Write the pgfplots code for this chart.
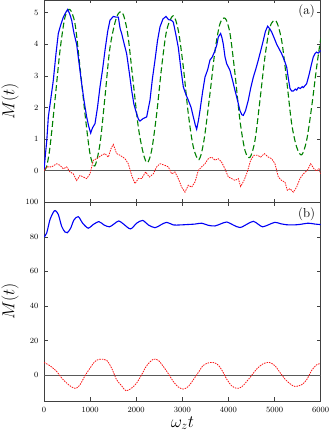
\documentclass[border=0pt]{standalone}
\usepackage{pgfplots}
\pgfplotsset{compat=1.18}
\definecolor{mblue}{RGB}{0,0,245}
\definecolor{mgreen}{RGB}{0,128,0}
\definecolor{mred}{RGB}{250,20,20}
\begin{document}
\begin{tikzpicture}[x=1pt,y=1pt]
\pgfplotsset{
  panel/.style={
    scale only axis, width=276.7pt,
    xmin=0, xmax=6000,
    xtick={0,1000,...,6000},
    tick pos=both, tick align=inside,
    major tick length=3.5pt,
    axis line style={black!75, line width=0.8pt},
    tick style={black!75, line width=0.6pt},
    ticklabel style={font=\fontsize{8.5}{9.5}\selectfont},
    xticklabel style={yshift=-3pt},
    yticklabel style={xshift=-2pt},
    /pgf/number format/1000 sep={},
    ylabel={$M(t)$},
    ylabel style={font=\fontsize{16}{18}\selectfont,
      at={(axis description cs:-0.123,0.5)}, anchor=center},
  },
  zeroline/.style={black!65, line width=0.6pt, forget plot},
}
\path[use as bounding box] (0,0) rectangle (332,435);

% (a) upper panel
\begin{axis}[panel, at={(44pt,232.7pt)}, anchor=south west, height=202.3pt,
  ymin=-1, ymax=5.4, ytick={0,1,...,5}, xticklabels={}]
\addplot[zeroline] coordinates {(0,0) (6000,0)};
% green, dashed
\addplot[mgreen, line width=1.1pt, dash pattern=on 6pt off 3pt, smooth] coordinates {
(0,0) (60,0.15) (130,0.75) (238,2.23) (347,3.8) (455,4.86) (560,5.1) (672,4.65)
(780,3.28) (889,1.8) (997,0.54) (1100,0.15) (1214,0.85) (1322,2.33) (1431,3.9)
(1575,4.86) (1700,5.0) (1814,4.34) (1922,2.96) (2045,1.38) (2154,0.54) (2240,0.25)
(2334,0.64) (2443,1.8) (2551,3.28) (2660,4.44) (2800,4.9) (2912,4.44) (3021,3.28)
(3129,1.8) (3238,0.75) (3360,0.35) (3469,0.96) (3599,2.44) (3708,3.8) (3816,4.65)
(3930,4.82) (4033,4.34) (4141,3.07) (4249,1.59) (4358,0.64) (4466,0.42) (4575,0.96)
(4683,2.23) (4791,3.6) (4900,4.55) (5030,4.74) (5153,4.12) (5262,2.86) (5370,1.49)
(5478,0.75) (5587,0.5) (5695,0.96) (5803,2.01) (5912,3.28) (6000,4.18)
};
% blue, solid
\addplot[mblue, line width=1.1pt] coordinates {
(0,0) (30,0.5) (60,0.95) (94,1.7) (150,2.3) (202,2.86) (260,3.7) (310,4.34)
(360,4.6) (419,4.86) (470,5.0) (513,5.1) (560,4.95) (600,4.76) (650,4.35)
(708,4.0) (760,3.4) (817,2.75) (870,2.2) (925,1.7) (970,1.4) (1012,1.19)
(1050,1.35) (1106,1.49) (1160,2.0) (1214,2.65) (1270,3.2) (1322,3.8) (1380,4.4)
(1431,4.76) (1503,4.88) (1560,4.86) (1612,4.86) (1650,4.5) (1684,4.34) (1740,4.0)
(1792,3.7) (1850,3.1) (1901,2.54) (1950,2.1) (2009,1.8) (2050,1.62) (2081,1.57)
(2150,1.65) (2226,1.7) (2298,2.23) (2350,2.9) (2407,3.5) (2460,4.1) (2515,4.55)
(2580,4.8) (2645,4.88) (2700,4.78) (2760,4.76) (2804,4.7) (2860,4.3) (2912,3.9)
(2970,3.2) (3021,2.65) (3080,2.4) (3129,2.23) (3190,2.0) (3238,1.7) (3280,1.45)
(3310,1.31) (3350,1.6) (3382,1.9) (3440,2.5) (3491,2.96) (3550,3.2) (3599,3.5)
(3650,3.6) (3708,3.8) (3750,4.0) (3780,4.23) (3830,4.34) (3860,4.2) (3888,4.0)
(3925,3.6) (3960,3.39) (4033,3.17) (4090,2.85) (4141,2.54) (4200,2.2) (4249,1.9)
(4290,1.77) (4322,1.75) (4370,1.9) (4430,2.23) (4480,2.6) (4539,2.96) (4590,3.2)
(4647,3.5) (4700,3.8) (4755,4.12) (4800,4.4) (4849,4.57) (4890,4.5) (4936,4.39)
(4990,4.2) (5045,4.0) (5100,3.85) (5153,3.7) (5210,3.5) (5262,3.28) (5300,2.9)
(5334,2.6) (5370,2.52) (5406,2.52) (5450,2.58) (5480,2.55) (5514,2.63) (5560,2.6)
(5600,2.66) (5623,2.63) (5695,2.75) (5750,3.05) (5803,3.39) (5840,3.6) (5876,3.7)
(5910,3.75) (5948,3.72) (5998,3.8)
};
% red, dotted
\addplot[mred, line width=0.8pt, dash pattern=on 1.5pt off 1pt] coordinates {
(0,0) (58,0.12) (166,0.12) (275,0.22) (347,0.17) (419,0.06) (491,0.12) (564,-0.04)
(636,-0.1) (708,-0.31) (780,-0.15) (853,-0.2) (925,-0.25) (997,-0.1) (1070,0.33)
(1142,0.38) (1250,0.49) (1322,0.54) (1395,0.43) (1453,0.7) (1503,0.83) (1575,0.54)
(1648,0.49) (1756,0.38) (1828,0.22) (1901,-0.15) (1973,-0.41) (2045,-0.25)
(2117,-0.25) (2204,-0.04) (2284,-0.2) (2370,-0.1) (2443,0.12) (2515,0.22)
(2623,0.17) (2696,0.12) (2768,-0.1) (2840,-0.04) (2912,-0.25) (2985,-0.52)
(3057,-0.68) (3129,-0.46) (3202,-0.52) (3274,-0.36) (3346,0.01) (3418,0.12)
(3491,0.22) (3563,0.38) (3636,0.43) (3708,0.33) (3780,0.38) (3852,0.27) (3924,0.06)
(3997,-0.2) (4069,-0.25) (4141,-0.31) (4213,-0.25) (4264,-0.5) (4336,-0.31)
(4408,-0.04) (4481,0.33) (4553,0.49) (4625,0.49) (4697,0.43) (4777,0.54) (4864,0.43)
(4936,0.38) (5008,0.22) (5081,-0.2) (5153,-0.31) (5225,-0.36) (5276,-0.62)
(5334,-0.57) (5406,-0.68) (5478,-0.52) (5550,-0.25) (5623,-0.1) (5709,0.01)
(5782,0.22) (5854,0.06) (5912,-0.01) (5962,0.06) (5998,-0.1)
};
\node[font=\fontsize{13}{15}\selectfont] at (rel axis cs:0.949,0.946) {(a)};
\end{axis}

% (b) lower panel
\begin{axis}[panel, at={(44pt,34pt)}, anchor=south west, height=198.7pt,
  ymin=-15, ymax=100, ytick={0,20,...,100},
  xlabel={$\omega_z t$},
  xlabel style={font=\fontsize{17}{19}\selectfont,
    at={(axis description cs:0.5,-0.111)}, anchor=center}]
\addplot[zeroline] coordinates {(0,0) (6000,0)};
\addplot[mblue, line width=1.1pt, smooth] coordinates {
(0,79.9) (58,82.2) (130,90) (202,94.2) (245,95.2) (311,92.9) (383,86.1) (455,82.8)
(506,82.4) (578,85) (650,89.8) (744,91.7) (838,87.9) (960,85) (1055,86.9) (1190,88.8)
(1300,86.9) (1420,85.8) (1520,87.5) (1620,89.2) (1720,87.5) (1875,84.6) (2009,87.9)
(2139,89.5) (2262,86.9) (2407,85.3) (2530,86.9) (2660,88.4) (2804,86.9) (2949,86.9)
(3093,87.1) (3274,87.4) (3419,87.9) (3560,86.7) (3707,86.3) (3830,87.5) (3965,88.6)
(4100,86.9) (4249,85.4) (4400,87.3) (4538,89.0) (4650,87.2) (4740,85.8) (4870,87.0)
(5008,88.4) (5130,87.6) (5262,87.0) (5406,86.9) (5550,87.2) (5731,87.9) (5876,87.4)
(5998,87.1)
};
\addplot[mred, line width=0.8pt, dash pattern=on 1.5pt off 1pt, smooth] coordinates {
(0,7.3) (130,5.4) (275,2.1) (383,-1.7) (491,-4.6) (600,-6.9) (694,-7.7) (780,-5.6)
(889,-0.4) (997,4.0) (1106,7.9) (1214,9.2) (1359,8.5) (1467,4.0) (1575,-2.7)
(1684,-6.2) (1778,-9.1) (1901,-7.5) (2009,-4.6) (2117,0.2) (2226,5.4) (2370,9.2)
(2479,8.5) (2587,5.0) (2696,0.8) (2804,-3.7) (2912,-6.9) (3021,-8.1) (3129,-6.6)
(3238,-2.7) (3346,1.5) (3454,5.6) (3599,7.3) (3744,6.6) (3852,3.1) (3961,-2.3)
(4069,-6.2) (4178,-7.7) (4286,-6.9) (4395,-3.7) (4503,-0.2) (4611,3.5) (4755,6.6)
(4885,7.3) (5008,5.4) (5117,1.5) (5225,-2.3) (5334,-5.0) (5442,-6.6) (5587,-5.6)
(5695,-2.7) (5804,2.7) (5912,6.0) (5998,6.6)
};
\node[font=\fontsize{13}{15}\selectfont] at (rel axis cs:0.949,0.938) {(b)};
\end{axis}
\end{tikzpicture}
\end{document}
